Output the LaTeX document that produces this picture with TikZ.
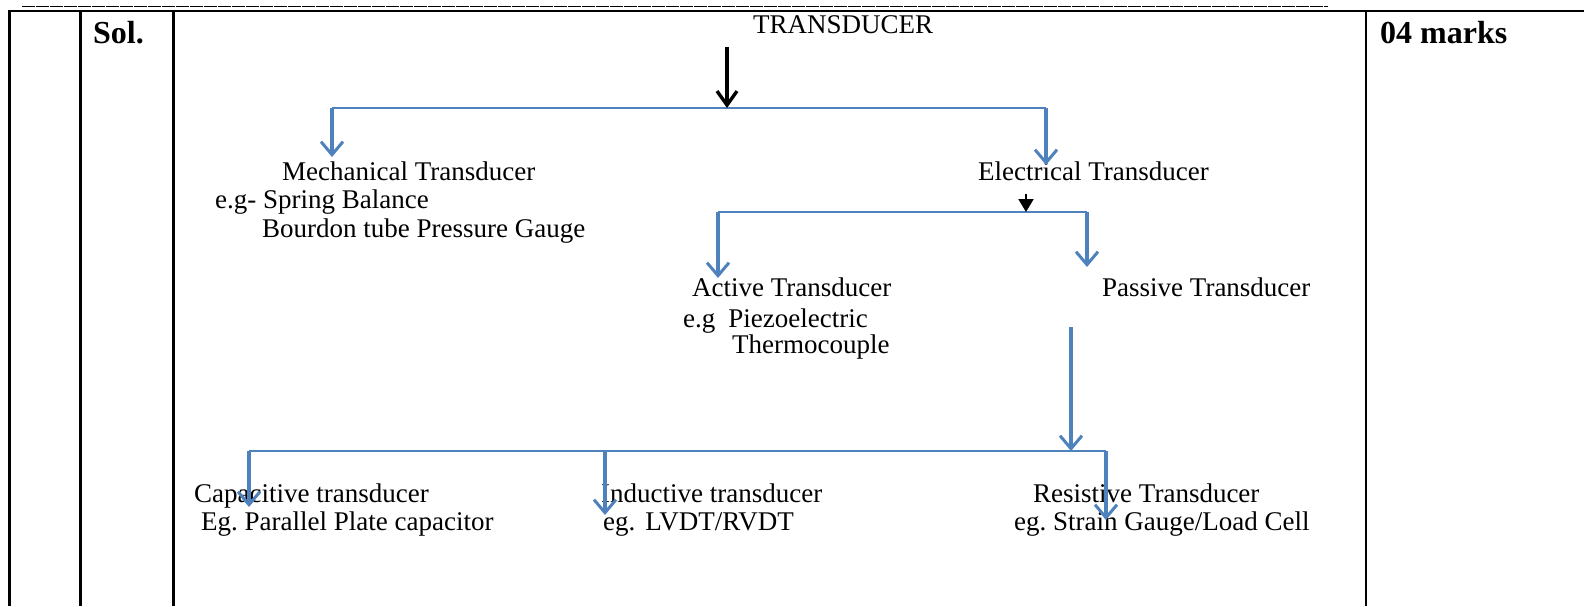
\documentclass[tikz,border=0pt]{standalone}
\usepackage{fontspec}
\setmainfont{Liberation Serif}
\frenchspacing
\usetikzlibrary{arrows.meta}
\definecolor{obl}{RGB}{79,129,189}
\tikzset{
  rule/.style={line width=2.6pt, black},
  txt/.style={anchor=base west, inner sep=0pt, font=\fontsize{27}{32}\selectfont},
  bold/.style={anchor=base west, inner sep=0pt, font=\fontsize{32}{38}\selectfont\bfseries},
  hbar/.style={line width=2pt, obl},
  varr/.style={line width=3.6pt, obl, -{Straight Barb[length=13pt,width=22pt,line width=3pt]}},
  barr/.style={line width=3.6pt, black, -{Straight Barb[length=14pt,width=20pt,line width=3.4pt]}},
  sarr/.style={line width=2pt, black, -{Triangle[length=13pt,width=15pt]}}
}
\begin{document}
\begin{tikzpicture}[x=1pt,y=-1pt]
\useasboundingbox (0,0) rectangle (1584,606);
% table
\draw[line width=1.1pt, dash pattern=on 13pt off 1pt] (22,6.5) -- (1328,6.5);
\draw[rule] (8,11) -- (1584,11);
\draw[rule] (9.5,11) -- (9.5,606);
\draw[rule] (80.5,11) -- (80.5,606);
\draw[rule] (173.5,11) -- (173.5,606);
\draw[rule] (1366,11) -- (1366,606);
\node[bold] (sol) at (93,43) {Sol.};
\node[bold] (marks) at (1380,43) {04 marks};
% texts
\node[txt] (tr) at (753,33) {TRANSDUCER};
\node[txt] (mech) at (282,180) {Mechanical Transducer};
\node[txt] (mech1) at (215,208) {e.g- Spring Balance};
\node[txt] (mech2) at (262,237) {Bourdon tube Pressure Gauge};
\node[txt] (elec) at (978,180) {Electrical Transducer};
\node[txt] (act) at (692,296) {Active Transducer};
\node[txt] (act1) at (683,327) {e.g\hspace{13pt}Piezoelectric};
\node[txt] (act2) at (732,353) {Thermocouple};
\node[txt] (pas) at (1102,296) {Passive Transducer};
\node[txt] (cap) at (194,502) {Capacitive transducer};
\node[txt] (cap1) at (201,530) {Eg. Parallel Plate capacitor};
\node[txt] (ind) at (601,502) {Inductive transducer};
\node[txt] (ind1) at (603,530) {eg.\hspace{10pt}LVDT/RVDT};
\node[txt] (res) at (1033,502) {Resistive Transducer};
\node[txt] (res1) at (1014,530) {eg. Strain Gauge/Load Cell};
% tree coordinates
\coordinate (t0) at (727,47);
\coordinate (t1) at (727,108);
\coordinate (hL) at (332,108);
\coordinate (hR) at (1046,108);
\coordinate (mT) at (332,157);
\coordinate (eT) at (1046,165);
\coordinate (e0) at (1026,194);
\coordinate (e1) at (1026,212);
\coordinate (aL) at (718,212);
\coordinate (aR) at (1087,212);
\coordinate (aT) at (718,278);
\coordinate (pT) at (1087,267);
\coordinate (p0) at (1071,327);
\coordinate (p1) at (1071,451);
\coordinate (bL) at (249,451);
\coordinate (bM) at (605,451);
\coordinate (bR) at (1106,451);
\coordinate (cT) at (249,507);
\coordinate (iT) at (605,515);
\coordinate (rT) at (1106,520);
% connectors
\draw[hbar] (hL) -- (hR);
\draw[barr] (t0) -- (t1);
\draw[varr] (hL) -- (mT);
\draw[varr] (hR) -- (eT);
\draw[hbar] (aL) -- (aR);
\draw[sarr] (e0) -- (e1);
\draw[varr] (aL) -- (aT);
\draw[varr] (aR) -- (pT);
\draw[hbar] (bL) -- (bR);
\draw[varr] (p0) -- (p1);
\draw[varr] (bL) -- (cT);
\draw[varr] (bM) -- (iT);
\draw[varr] (bR) -- (rT);
\end{tikzpicture}
\end{document}
